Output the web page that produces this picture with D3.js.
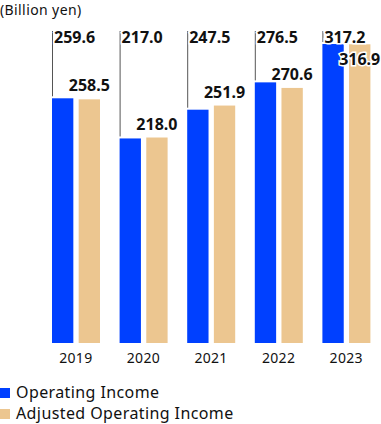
<!DOCTYPE html>
<html><head><meta charset="utf-8">
<script src="https://cdn.jsdelivr.net/npm/d3@7"></script>
<style>body{margin:0;background:#fff}svg{display:block}</style>
</head><body>
<script>
const years = ["2019","2020","2021","2022","2023"];
const operatingIncome = [259.6, 217.0, 247.5, 276.5, 317.2];
const adjustedIncome = [258.5, 218.0, 251.9, 270.6, 316.9];
const seriesNames = ["Operating Income", "Adjusted Operating Income"];
const colors = ["#0040ff", "#ecc690"];
const unitLabel = "(Billion yen)";

const W = 381, H = 424;
const svg = d3.select("body").append("svg").attr("width", W).attr("height", H);

const x = d3.scaleBand().domain(years).range([41, 379]).paddingInner(0.0).paddingOuter(0);
const xs = d3.scaleBand().domain([0,1]).range([11, 59]).paddingInner(0.2);
const y = d3.scaleLinear().domain([0, 317.2]).range([343, 44]);

svg.append("text").attr("x", 0).attr("y", 15).text(unitLabel)
  .style("font-family", "'Noto Sans'").style("font-size", "14px")
  .style("letter-spacing", "0.4px").attr("fill", "#111");

const g = svg.selectAll("g.yr").data(years).enter().append("g")
  .attr("transform", d => `translate(${x(d)},0)`);

// bars
[operatingIncome, adjustedIncome].forEach((vals, si) => {
  g.append("rect")
    .attr("x", xs(si)).attr("width", xs.bandwidth())
    .attr("y", (d,i) => y(vals[i])).attr("height", (d,i) => y(0) - y(vals[i]))
    .attr("fill", colors[si]);
});

// leader lines
g.append("line")
  .attr("x1", xs(0)+0.5).attr("x2", xs(0)+0.5)
  .attr("y1", 31).attr("y2", (d,i) => y(operatingIncome[i]) - 2)
  .attr("stroke", "#555").attr("stroke-width", 1);

const labelStyle = s => s.style("font-family", "'Noto Sans', sans-serif")
  .style("font-weight", "bold").style("font-size", "16px").attr("fill", "#111")
  .attr("stroke", "#fff").attr("stroke-width", 3).attr("paint-order", "stroke");

g.append("text").attr("x", xs(0) + 2).attr("y", 43)
  .text((d,i) => operatingIncome[i].toFixed(1)).call(labelStyle);

g.append("text").attr("x", xs(1) + xs.bandwidth()/2).attr("text-anchor", "middle")
  .attr("y", (d,i) => Math.max(y(adjustedIncome[i]) - 8, 65))
  .text((d,i) => adjustedIncome[i].toFixed(1)).call(labelStyle);

// x axis labels
g.append("text").attr("x", xs(0) + xs.bandwidth() + 2.5).attr("text-anchor", "middle")
  .attr("y", 363).text(d => d)
  .style("font-family", "'Noto Sans'").style("font-size", "14px")
  .style("letter-spacing", "0.3px").attr("fill", "#111");

// legend
const lg = svg.selectAll("g.lg").data(seriesNames).enter().append("g")
  .attr("transform", (d,i) => `translate(0,${388 + i*21})`);
lg.append("rect").attr("x", 0).attr("y", 0).attr("width", 10).attr("height", 10)
  .attr("fill", (d,i) => colors[i]);
lg.append("text").attr("x", 16).attr("y", 10).text(d => d)
  .style("font-family", "'Noto Sans'").style("font-size", "16px")
  .style("letter-spacing", "0.4px").attr("fill", "#111");
</script>
</body></html>
